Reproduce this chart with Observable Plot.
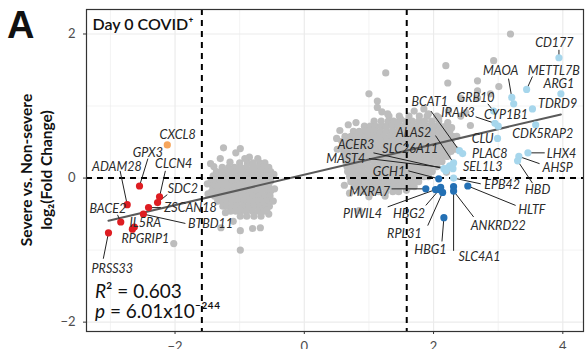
<!DOCTYPE html>
<html><head><meta charset="utf-8">
<script src="https://cdn.jsdelivr.net/npm/d3@7"></script>
<script src="https://cdn.jsdelivr.net/npm/@observablehq/plot@0.6"></script>
<style>body{margin:0;background:#fff} svg{display:block}</style>
</head><body><div id="chart"></div>
<script>
// ---------------- data ----------------
// grey (non-significant) genes, left cloud: [y, [x...]]
const greyLeftRows = [
 [0.21, [-1.00,-0.88,-0.79,-0.69,-0.61]],
 [0.15, [-1.27,-1.17,-1.08,-0.99,-0.90,-0.80,-0.71,-0.62,-0.55]],
 [0.09, [-1.36,-1.28,-1.20,-1.11,-1.02,-0.94,-0.85,-0.76,-0.67,-0.58,-0.52]],
 [0.03, [-1.41,-1.33,-1.25,-1.17,-1.07,-0.98,-0.89,-0.80,-0.72,-0.63,-0.54]],
 [-0.04,[-1.44,-1.38,-1.30,-1.21,-1.12,-1.03,-0.94,-0.86,-0.77,-0.68,-0.59,-0.52]],
 [-0.11,[-1.42,-1.33,-1.24,-1.16,-1.07,-0.98,-0.89,-0.81,-0.72,-0.63,-0.55]],
 [-0.18,[-1.43,-1.36,-1.28,-1.19,-1.10,-1.01,-0.92,-0.84,-0.75,-0.66,-0.57,-0.52]],
 [-0.25,[-1.39,-1.31,-1.23,-1.14,-1.05,-0.96,-0.88,-0.79,-0.70,-0.61,-0.53]],
 [-0.32,[-1.34,-1.27,-1.20,-1.11,-1.02,-0.93,-0.84,-0.75,-0.66,-0.58]],
 [-0.39,[-1.26,-1.19,-1.12,-1.04,-0.95,-0.86,-0.78,-0.69,-0.60,-0.54]],
 [-0.46,[-1.14,-1.06,-0.98,-0.89,-0.80,-0.71,-0.62]],
 [-0.53,[-0.99,-0.89,-0.78,-0.67]]
];
// grey genes, right cloud: [y, [x...]]
const greyRightRows = [
 [0.86, [1.31,1.47,1.62,1.78,1.90,2.05]],
 [0.79, [1.08,1.19,1.30,1.38,1.47,1.58,1.67,1.77,1.86,1.97,2.08]],
 [0.72, [0.93,1.02,1.10,1.19,1.27,1.36,1.45,1.55,1.64,1.73,1.83,1.92,2.01,2.10,2.19]],
 [0.65, [0.76,0.85,0.92,1.00,1.09,1.18,1.27,1.36,1.45,1.54,1.63,1.73,1.82,1.91,2.00,2.09,2.18,2.25]],
 [0.58, [0.63,0.72,0.80,0.88,0.96,1.05,1.14,1.23,1.33,1.42,1.51,1.60,1.69,1.78,1.87,1.96,2.05,2.14,2.23,2.30]],
 [0.51, [0.58,0.66,0.74,0.83,0.92,1.01,1.10,1.19,1.28,1.37,1.46,1.55,1.64,1.73,1.82,1.91,2.00,2.09,2.18,2.27]],
 [0.44, [0.59,0.68,0.77,0.86,0.95,1.04,1.13,1.22,1.31,1.40,1.49,1.58,1.67,1.76,1.85,1.94,2.03,2.12,2.21,2.29]],
 [0.37, [0.61,0.67,0.75,0.84,0.93,1.02,1.11,1.20,1.29,1.38,1.47,1.56,1.65,1.74,1.83,1.92,2.01,2.10,2.19,2.27]],
 [0.30, [0.62,0.70,0.78,0.87,0.96,1.05,1.14,1.23,1.32,1.41,1.50,1.59,1.68,1.77,1.86,1.95,2.04,2.13,2.21]],
 [0.23, [0.64,0.72,0.80,0.89,0.98,1.07,1.16,1.25,1.34,1.43,1.52,1.61,1.70,1.79,1.88,1.97,2.06,2.13]],
 [0.16, [0.66,0.73,0.81,0.90,0.99,1.08,1.17,1.26,1.35,1.44,1.53,1.62,1.71,1.80,1.89,1.98,2.05]],
 [0.09, [0.67,0.75,0.83,0.92,1.01,1.10,1.19,1.28,1.37,1.46,1.55,1.64,1.73,1.82,1.91,1.98]],
 [0.02, [0.70,0.78,0.86,0.95,1.04,1.13,1.22,1.31,1.40,1.49,1.58,1.67,1.76,1.85,1.92]],
 [-0.05,[0.72,0.80,0.88,0.97,1.06,1.15,1.24,1.33,1.42,1.51,1.60,1.69,1.77]],
 [-0.12,[0.77,0.85,0.93,1.02,1.11,1.20,1.29,1.38,1.47,1.56,1.63]],
 [-0.19,[0.86,0.95,1.05,1.15,1.26,1.37,1.46]]
];
// scattered grey genes (cloud fringes and outliers)
const greyScatterX = [-1.25,-0.99,-1.06,-1.30,-0.85,-1.45,-0.80,-0.68,-1.10,-1.29,-0.99,-2.02,-0.99,
  -1.50,-1.49,-1.40,-0.47,-0.46,-0.48,-0.55,-1.22,-0.72,-0.92,-1.15,-0.58,
  1.00,1.13,1.13,1.29,1.26,2.19,2.22,2.93,3.19,2.68,3.01,2.68,2.88,2.68,2.42,2.23,2.50,1.85,1.92,2.08,1.49,2.42,2.22,2.57,0.85,
  0.51,0.50,0.68,0.80,0.62,0.70,1.58,1.70,2.34,2.36,2.28,1.20,1.70,2.20,0.55,1.00,1.25];
const greyScatterY = [0.42,0.41,0.35,0.27,0.29,0.20,-0.70,-0.69,-0.60,-0.69,-0.73,-0.91,-1.00,
  -0.08,-0.22,0.16,0.05,-0.15,-0.32,-0.50,-0.48,0.27,0.27,0.22,-0.44,
  1.17,1.07,0.98,0.89,1.46,1.56,1.32,1.63,2.00,1.35,1.27,1.21,1.17,1.11,1.11,0.93,0.91,0.96,0.89,0.84,0.82,0.86,0.77,0.73,-0.45,
  0.40,0.55,0.74,0.77,-0.10,-0.21,-0.17,-0.12,0.40,0.58,0.70,0.92,0.93,0.08,0.66,-0.26,-0.25];

// highlighted genes
const geneNames = ["CXCL8","GPX3","ADAM28","CLCN4","SDC2","ZSCAN18","BTBD11","BACE2","IL5RA","RPGRIP1","PRSS33",
 "GCH1","MXRA7","PIWIL4","HBG2","RPL31","HBG1","SLC4A1","ANKRD22","HLTF",
 "EPB42","SEL1L3","PLAC8","BCAT1","CLU","CDK5RAP2","LHX4","AHSP","HBD","ALAS2","SLC26A11","ACER3","MAST4",
 "IRAK3","CYP1B1","GRB10","MAOA","METTL7B","CD177","ARG1","TDRD9","","",""];
const geneX = [-2.12,-2.55,-2.74,-2.24,-2.27,-2.41,-2.49,-2.84,-2.63,-2.66,-3.03,
 2.08,1.88,2.03,2.09,2.14,2.16,2.31,2.31,2.53,
 2.31,2.25,2.45,2.40,2.99,3.58,3.46,3.32,3.30,2.31,2.22,2.16,2.30,
 2.95,3.00,2.93,3.21,3.44,3.94,3.97,3.53,3.24,2.19,2.11];
const geneY = [0.46,-0.11,-0.37,-0.26,-0.34,-0.41,-0.50,-0.61,-0.68,-0.71,-0.76,
 -0.01,-0.15,-0.16,-0.16,-0.20,-0.55,-0.12,-0.18,-0.11,
 0.00,0.17,0.34,0.38,0.55,0.74,0.35,0.30,0.24,0.21,0.14,0.13,0.13,
 0.76,0.72,0.93,1.12,1.23,1.67,1.17,0.96,1.03,0.10,-0.13];
const geneGroup = ["up-left",...Array(10).fill("down-left"),...Array(9).fill("down-right"),...Array(21).fill("up-right"),"up-right","up-right","down-right"];
const groupNames = ["up-left","down-left","down-right","up-right"];

// label placement (annotation layout, data units): [label x, label y, leader start x, leader start y]
const labelLayout = {
 CXCL8:[-1.96,0.60], GPX3:[-2.42,0.35,-2.42,0.27], ADAM28:[-2.90,0.16,-2.85,0.10], CLCN4:[-2.02,0.19,-2.15,0.10],
 SDC2:[-1.88,-0.15,-2.12,-0.23], ZSCAN18:[-1.76,-0.42,-2.22,-0.41], BTBD11:[-1.45,-0.64,-1.84,-0.63],
 BACE2:[-3.04,-0.43,-2.89,-0.51], IL5RA:[-2.46,-0.63], RPGRIP1:[-2.46,-0.84], PRSS33:[-2.97,-1.26,-3.11,-1.12],
 GCH1:[1.31,0.09,1.61,0.10], MXRA7:[1.01,-0.20,1.35,-0.15], PIWIL4:[0.90,-0.50,1.29,-0.40], HBG2:[1.62,-0.50,1.88,-0.38],
 RPL31:[1.55,-0.77,1.91,-0.66], HBG1:[1.95,-1.00,2.13,-0.88], SLC4A1:[2.71,-1.09,2.31,-1.01], ANKRD22:[3.00,-0.66,2.62,-0.54],
 HLTF:[3.52,-0.44,3.27,-0.38], EPB42:[3.06,-0.09,2.73,-0.08], SEL1L3:[2.76,0.16], PLAC8:[2.87,0.34],
 BCAT1:[1.94,1.05,1.96,0.93], CLU:[2.76,0.54], CDK5RAP2:[3.69,0.61], LHX4:[3.98,0.34,3.72,0.35], AHSP:[3.92,0.14,3.64,0.20],
 HBD:[3.61,-0.17,3.53,-0.07], ALAS2:[1.69,0.62,2.03,0.59], SLC26A11:[1.64,0.40], ACER3:[0.80,0.46,1.07,0.35],
 MAST4:[0.64,0.26,1.00,0.27], IRAK3:[2.38,0.91,2.65,0.85], CYP1B1:[3.12,0.87], GRB10:[2.65,1.11,2.84,1.03],
 MAOA:[3.04,1.49,3.16,1.38], METTL7B:[3.86,1.49,3.53,1.41], CD177:[3.87,1.87,3.94,1.78], ARG1:[3.94,1.30], TDRD9:[3.92,1.03]
};

const fitSlope = 0.211, fitIntercept = 0.046;
const foldThreshold = Math.log2(3);
const statR2 = "0.603";
const statP = "6.01x10⁻²⁴⁴";
const xTicks = [-2,0,2,4], xMinor = [-3,-1,1,3];
const yTicks = [-2,0,2], yMinor = [-1,1];

// ---------------- build tables ----------------
const grey = [
 ...greyLeftRows.flatMap(([y,xs]) => xs.map(x => ({x,y}))),
 ...greyRightRows.flatMap(([y,xs]) => xs.map(x => ({x,y}))),
 ...greyScatterX.map((x,i) => ({x, y: greyScatterY[i]}))
];
const genes = geneNames.map((name,i) => ({name, x: geneX[i], y: geneY[i], group: geneGroup[i]}));
const labels = genes.filter(g => g.name && labelLayout[g.name]).map(g => {
  const L = labelLayout[g.name];
  return {name: g.name, px: g.x, py: g.y, lx: L[0], ly: L[1], ax: L[2], ay: L[3]};
});
const leaders = labels.filter(d => d.ax !== undefined);
const xExt = d3.extent(genes, d => d.x);
const fitLine = xExt.map(x => ({x, y: fitIntercept + fitSlope * x}));
const fmt = d => d < 0 ? "\u2212" + (-d) : String(d);

const FONT = "Lato, 'Open Sans', sans-serif";
const chart = Plot.plot({
  width: 586, height: 349,
  marginLeft: 86, marginRight: 3, marginTop: 9, marginBottom: 18,
  style: {fontFamily: FONT, background: "#fff"},
  x: {domain: [-3.37, 4.32]},
  y: {domain: [-2.13, 2.34]},
  color: {domain: groupNames, range: ["#f6a55b","#de1d22","#2470b4","#a6d6ec"]},
  marks: [
    Plot.gridX(xMinor, {stroke: "#ebebeb", strokeOpacity: 1, strokeWidth: 0.6}),
    Plot.gridY(yMinor, {stroke: "#ebebeb", strokeOpacity: 1, strokeWidth: 0.6}),
    Plot.gridX(xTicks, {stroke: "#ebebeb", strokeOpacity: 1, strokeWidth: 1.2}),
    Plot.gridY(yTicks, {stroke: "#ebebeb", strokeOpacity: 1, strokeWidth: 1.2}),
    Plot.dot(grey, {x: "x", y: "y", r: 3.6, fill: "#bdbdbd"}),
    Plot.line(fitLine, {x: "x", y: "y", stroke: "#5a5a5a", strokeWidth: 2}),
    Plot.ruleX([-foldThreshold, foldThreshold], {stroke: "#000", strokeWidth: 2, strokeDasharray: "6,5"}),
    Plot.ruleY([0], {stroke: "#000", strokeWidth: 2, strokeDasharray: "6,5"}),
    Plot.link(leaders, {x1: "ax", y1: "ay", x2: "px", y2: "py", stroke: "#222", strokeWidth: 1}),
    Plot.dot(genes, {x: "x", y: "y", r: 3.6, fill: "group"}),
    Plot.text(labels, {x: "lx", y: "ly", text: "name", fontStyle: "italic", fontSize: 12.5, fill: "#2a2a2a"}),
    Plot.frame({stroke: "#333", strokeWidth: 1.2}),
    Plot.axisX(xTicks, {tickSize: 3, tickPadding: 7, fontSize: 13, stroke: "#333", fill: "#4d4d4d", label: null, tickFormat: fmt}),
    Plot.axisY(yTicks, {tickSize: 3, tickPadding: 8, fontSize: 13, stroke: "#333", fill: "#4d4d4d", label: null, tickFormat: fmt}),
    Plot.text(["Day 0 COVID⁺"], {frameAnchor: "top-left", textAnchor: "start", dx: 6, dy: 9, fontSize: 16, fontWeight: 600, fill: "#111"})
  ]
});
document.getElementById("chart").appendChild(chart);

// extra annotation text
const svg = d3.select(chart);
svg.append("text").attr("x", 7).attr("y", 38).attr("text-anchor", "start")
  .attr("font-family", "'Liberation Sans', Arial, sans-serif")
  .attr("font-weight", 700).attr("font-size", 38).attr("fill", "#111").text("A");
const yt = svg.append("g").attr("transform", "translate(0,170) rotate(-90)")
  .attr("font-family", FONT).attr("font-weight", 700).attr("font-size", 15.5).attr("fill", "#111").attr("text-anchor", "middle");
yt.append("text").attr("y", 32).text("Severe vs. Non-severe");
yt.append("text").attr("y", 52).text("log₂(Fold Change)");
const st = svg.append("g").attr("font-family", FONT).attr("font-size", 19).attr("fill", "#111").attr("text-anchor", "start");
const t1 = st.append("text").attr("x", 95).attr("y", 298);
t1.append("tspan").attr("font-style", "italic").text("R");
t1.append("tspan").text("² = " + statR2);
const t2 = st.append("text").attr("x", 95).attr("y", 318);
t2.append("tspan").attr("font-style", "italic").text("p");
t2.append("tspan").text(" = " + statP);
</script>
</body></html>
